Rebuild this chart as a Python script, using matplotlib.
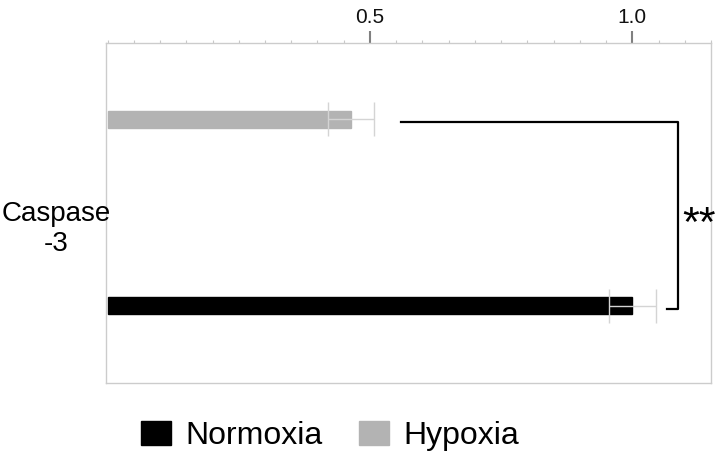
import matplotlib
matplotlib.use('Agg')
import matplotlib.pyplot as plt
from matplotlib.ticker import MultipleLocator

plt.rcParams['font.family'] = ['Liberation Sans', 'DejaVu Sans']

# Data
groups = ['Normoxia', 'Hypoxia']
values = [1.0, 0.464]
errors = [0.045, 0.043]
colors = ['#000000', '#b3b3b3']
category = 'Caspase\n-3'
significance = '**'

# bar positions inside the axis (one category, two groups)
positions = [-0.547, 0.55]
bar_height = 0.1

fig = plt.figure(figsize=(7.2, 4.57), dpi=100)
ax = fig.add_axes([106 / 720, 1 - 383 / 457, 605 / 720, 340 / 457])

bars = []
for pos, val, err, col, name in zip(positions, values, errors, colors, groups):
    b = ax.barh(pos, val, height=bar_height, color=col, edgecolor=col, label=name, zorder=2)
    ax.errorbar(val, pos, xerr=err, color='#d4d4d4', lw=1, capsize=12, capthick=1, zorder=3)
    bars.append(b)

ax.set_xlim(-0.003, 1.15)
ax.set_ylim(-1, 1)

# significance bracket
x_br = 1.088
ax.plot([0.56, x_br, x_br, 1.067], [0.535, 0.535, -0.565, -0.565], color='black', lw=1.6, zorder=4)
ax.text(x_br + 0.008, -0.07, significance, fontsize=31, va='center', ha='left', clip_on=False)

# axis styling
ax.xaxis.tick_top()
ax.xaxis.set_major_locator(MultipleLocator(0.5))
ax.xaxis.set_minor_locator(MultipleLocator(0.05))
ax.set_xticks([0.5, 1.0])
ax.set_xticklabels(['0.5', '1.0'], fontsize=15, color='#111111')
ax.tick_params(axis='x', which='major', direction='out', length=8.5, width=1.5, color='#808080', pad=3)
ax.tick_params(axis='x', which='minor', direction='out', length=2.5, width=0.8, color='#c8c8c8')
ax.set_yticks([])
for s in ax.spines.values():
    s.set_color('#cccccc')
    s.set_linewidth(1)

fig.text(56 / 720, 1 - 229 / 457, category, fontsize=20, ha='center', va='center', multialignment='center')

fig.legend(handles=bars, labels=groups, loc='center', bbox_to_anchor=(330 / 720, 1 - 436 / 457),
           ncol=2, frameon=False, fontsize=23, handlelength=0.94, handleheight=0.75,
           handletextpad=0.45, columnspacing=1.15)

fig.savefig('out.png', dpi=100)
